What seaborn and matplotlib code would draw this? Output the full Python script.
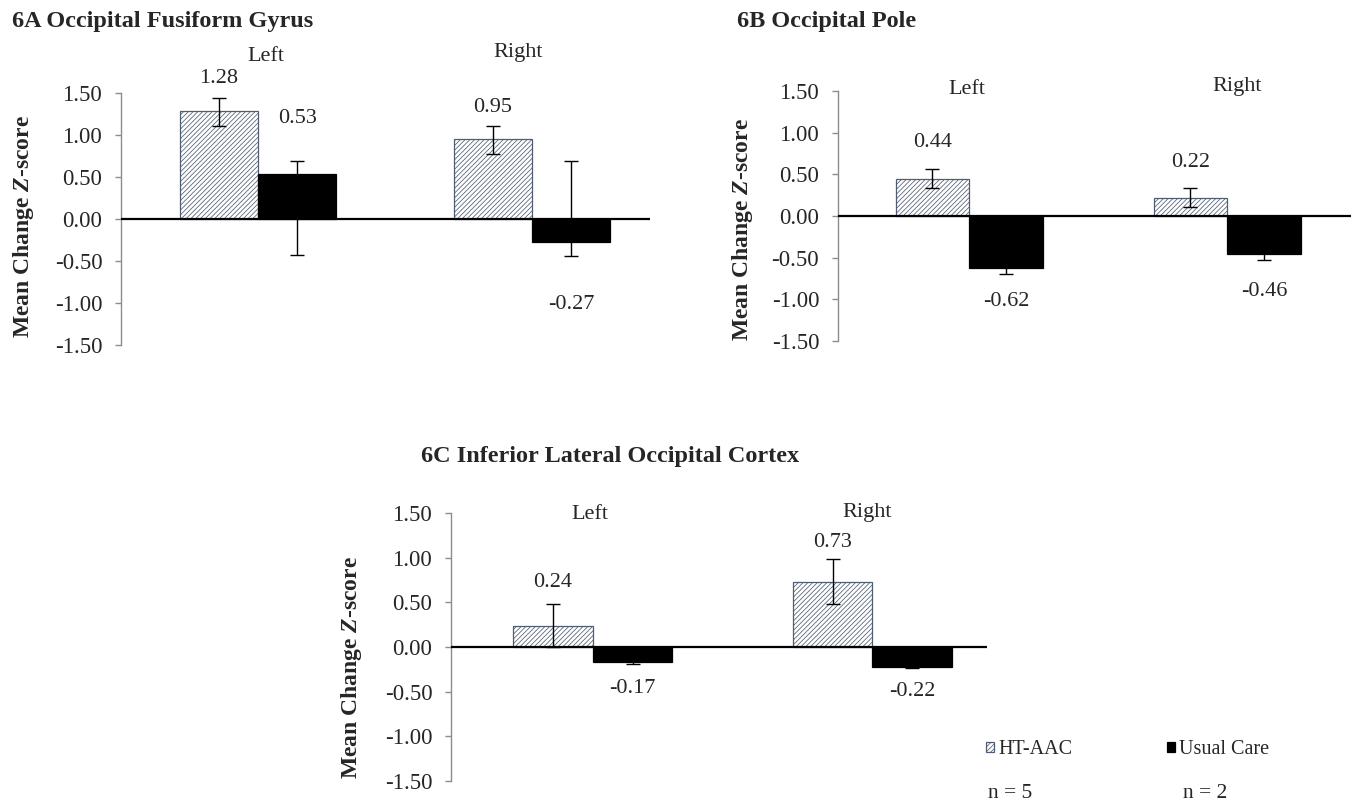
import numpy as np
import pandas as pd
import seaborn as sns
import matplotlib.pyplot as plt

sides = ['Left', 'Right']
groups = ['HT-AAC', 'Usual Care']

# 6A Occipital Fusiform Gyrus
fus_ht = [1.28, 0.95]
fus_uc = [0.53, -0.27]
fus_ht_lo = [0.17, 0.18]
fus_ht_hi = [0.16, 0.16]
fus_uc_lo = [0.96, 0.17]
fus_uc_hi = [0.16, 0.96]

# 6B Occipital Pole
pole_ht = [0.44, 0.22]
pole_uc = [-0.62, -0.46]
pole_ht_lo = [0.10, 0.11]
pole_ht_hi = [0.12, 0.12]
pole_uc_lo = [0.08, 0.07]
pole_uc_hi = [0.08, 0.07]

# 6C Inferior Lateral Occipital Cortex
lat_ht = [0.24, 0.73]
lat_uc = [-0.17, -0.22]
lat_ht_lo = [0.245, 0.25]
lat_ht_hi = [0.245, 0.25]
lat_uc_lo = [0.02, 0.02]
lat_uc_hi = [0.02, 0.02]

n_counts = ['n = 5', 'n = 2']

sns.set_style('white')
plt.rcParams['font.family'] = ['Liberation Serif', 'DejaVu Serif']
plt.rcParams['mathtext.fontset'] = 'custom'
plt.rcParams['mathtext.rm'] = 'Liberation Serif:bold'
plt.rcParams['mathtext.it'] = 'Liberation Serif:italic:bold'
plt.rcParams['axes.unicode_minus'] = False
plt.rcParams['hatch.linewidth'] = 0.55

W, H = 1360, 808
fig = plt.figure(figsize=(13.6, 8.08), dpi=100)


def px_axes(x0, x1, ytop, ybot):
    return fig.add_axes([x0 / W, 1 - ybot / H, (x1 - x0) / W, (ybot - ytop) / H])


def draw_panel(ax, ht, uc, ht_lo, ht_hi, uc_lo, uc_hi, xlim, label_y, head_pos, ylab_pos):
    df = pd.DataFrame({
        'side': sides * 2,
        'group': [groups[0]] * 2 + [groups[1]] * 2,
        'value': ht + uc,
    })
    sns.barplot(data=df, x='side', y='value', hue='group', order=sides, hue_order=groups,
                palette={'HT-AAC': 'white', 'Usual Care': 'black'}, width=0.57,
                saturation=1, legend=False, ax=ax, zorder=2)

    ht_bars, uc_bars = ax.containers[0], ax.containers[1]
    for p in ht_bars:
        p.set_hatch('///////')
        p.set_edgecolor('#4f5d73')
        p.set_linewidth(0.9)
    for p in uc_bars:
        p.set_edgecolor('black')
        p.set_linewidth(0.9)

    for bars, vals, lo, hi in [(ht_bars, ht, ht_lo, ht_hi), (uc_bars, uc, uc_lo, uc_hi)]:
        xs = [p.get_x() + p.get_width() / 2 for p in bars]
        ax.errorbar(xs, vals, yerr=[lo, hi], fmt='none', ecolor='black',
                    elinewidth=1, capsize=5, capthick=1, zorder=3)

    # value labels
    for bars, vals, ly in [(ht_bars, ht, label_y[0]), (uc_bars, uc, label_y[1])]:
        for p, v, y in zip(bars, vals, ly):
            ax.text(p.get_x() + p.get_width() / 2, y, f'{v:.2f}', ha='center', va='center',
                    fontsize=16, clip_on=False)

    # Left / Right headers
    for name, (hx, hy) in zip(sides, head_pos):
        ax.text(hx, hy, name, ha='center', va='center', fontsize=16, clip_on=False)

    ax.axhline(0, color='black', lw=1.6, zorder=4)
    ax.set_xlim(*xlim)
    ax.set_ylim(-1.5, 1.5)
    ax.set_yticks(np.arange(-1.5, 1.51, 0.5))
    ax.set_yticklabels([f'{t:.2f}' for t in np.arange(-1.5, 1.51, 0.5)])
    ax.set_xticks([])
    ax.set_xlabel('')
    ax.set_ylabel('')
    for s in ['top', 'right', 'bottom']:
        ax.spines[s].set_visible(False)
    ax.spines['left'].set_color('#8c8c8c')
    ax.spines['left'].set_linewidth(1)
    ax.tick_params(axis='y', direction='out', length=4.5, width=1, color='#8c8c8c',
                   labelsize=16.5, pad=9, left=True)
    ax.patch.set_alpha(0)
    ax.text(ylab_pos[0], ylab_pos[1], r'Mean Change $\mathit{Z}$-score', rotation=90,
            ha='center', va='center', fontsize=17, fontweight='bold', transform=ax.transAxes)


ax_a = px_axes(121, 650, 93, 345)
draw_panel(ax_a, fus_ht, fus_uc, fus_ht_lo, fus_ht_hi, fus_uc_lo, fus_uc_hi,
           xlim=(-0.5, 1.43), label_y=([1.67, 1.33], [1.20, -1.02]),
           head_pos=[(0.03, 1.93), (0.95, 1.98)], ylab_pos=(-0.185, 0.47))

ax_b = px_axes(838, 1351, 91, 341)
draw_panel(ax_b, pole_ht, pole_uc, pole_ht_lo, pole_ht_hi, pole_uc_lo, pole_uc_hi,
           xlim=(-0.508, 1.48), label_y=([0.88, 0.64], [-1.02, -0.91]),
           head_pos=[(-0.01, 1.52), (1.04, 1.55)], ylab_pos=(-0.187, 0.448))

ax_c = px_axes(451, 987, 513, 781)
draw_panel(ax_c, lat_ht, lat_uc, lat_ht_lo, lat_ht_hi, lat_uc_lo, lat_uc_hi,
           xlim=(-0.507, 1.41), label_y=([0.72, 1.17], [-0.46, -0.50]),
           head_pos=[(-0.01, 1.48), (0.98, 1.50)], ylab_pos=(-0.185, 0.425))

# panel titles
fig.text(12 / W, 1 - 21 / H, '6A Occipital Fusiform Gyrus', fontsize=17.5, fontweight='bold',
         ha='left', va='center')
fig.text(737 / W, 1 - 21 / H, '6B Occipital Pole', fontsize=17.5, fontweight='bold',
         ha='left', va='center')
fig.text(421 / W, 1 - 457 / H, '6C Inferior Lateral Occipital Cortex', fontsize=17.5,
         fontweight='bold', ha='left', va='center')

# legend
handles = [ax_c.containers[0][0], ax_c.containers[1][0]]
fig.legend(handles, groups, loc='center left', bbox_to_anchor=(986 / W, 1 - 750 / H),
           ncol=2, frameon=False, fontsize=14.5, handlelength=0.4, handleheight=0.4,
           handletextpad=0.2, columnspacing=4.7, borderpad=0, borderaxespad=0)
fig.text(988 / W, 1 - 793 / H, n_counts[0], fontsize=15.5, ha='left', va='center')
fig.text(1183 / W, 1 - 793 / H, n_counts[1], fontsize=15.5, ha='left', va='center')

fig.savefig('out.png', dpi=100)
